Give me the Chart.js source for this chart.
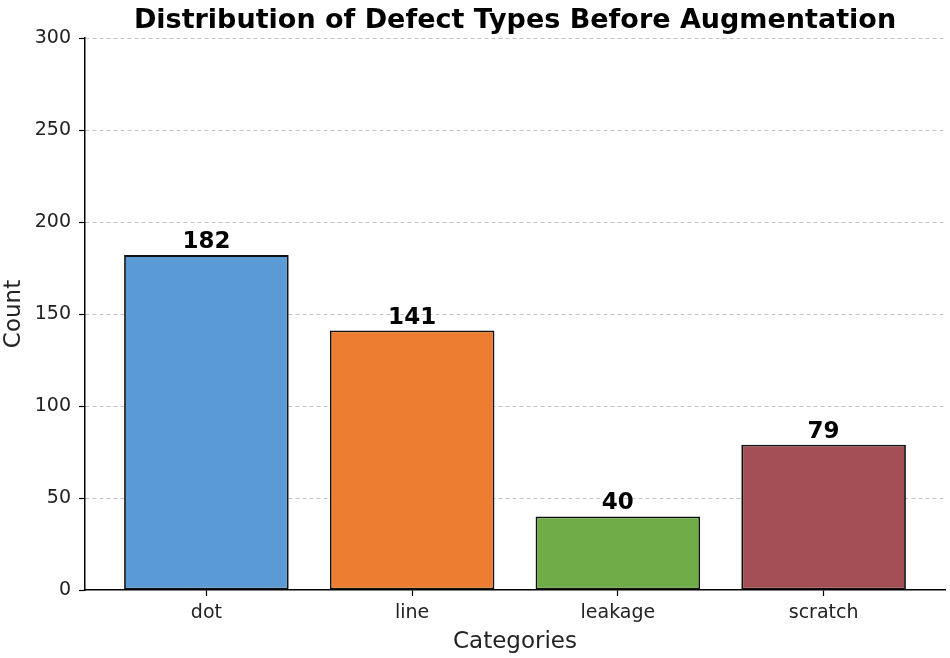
<!DOCTYPE html>
<html>
<head>
<meta charset="utf-8">
<script src="https://cdn.jsdelivr.net/npm/chart.js@4/dist/chart.umd.min.js"></script>
<style>
  html, body { margin: 0; padding: 0; background: #fff; }
  #wrap { width: 950px; height: 658px; }
</style>
</head>
<body>
<div id="wrap"><canvas id="defectChart"></canvas></div>
<script>
const categories = ['dot', 'line', 'leakage', 'scratch'];
const counts = [182, 141, 40, 79];
const barColors = ['#5b9bd5', '#ed7d31', '#70ad47', '#a44f55'];
const yTicks = [0, 50, 100, 150, 200, 250, 300];
const chartTitle = 'Distribution of Defect Types Before Augmentation';

Chart.defaults.font.family = "'DejaVu Sans', sans-serif";
Chart.defaults.color = '#222';

// title centred over the plot area + value labels above each bar
const barLabels = {
  id: 'barLabels',
  afterDatasetsDraw(chart) {
    const ctx = chart.ctx;
    const area = chart.chartArea;
    ctx.save();
    ctx.fillStyle = '#000';
    ctx.textAlign = 'center';
    ctx.textBaseline = 'alphabetic';
    ctx.font = "bold 23px 'DejaVu Sans'";
    chart.getDatasetMeta(0).data.forEach((bar, i) => {
      ctx.fillText(counts[i], bar.x, bar.y - 7);
    });
    ctx.font = "bold 27px 'DejaVu Sans'";
    ctx.fillText(chartTitle, (area.left + area.right) / 2, 28);
    ctx.restore();
  }
};

const ctx = document.getElementById('defectChart');

new Chart(ctx, {
  type: 'bar',
  data: {
    datasets: [{
      data: counts.map((v, i) => ({ x: i, y: v })),
      backgroundColor: barColors,
      borderColor: '#111',
      borderWidth: 1.8,
      borderSkipped: false,
      categoryPercentage: 0.8,
      barPercentage: 1
    }]
  },
  options: {
    responsive: true,
    maintainAspectRatio: false,
    animation: false,
    layout: {
      padding: { top: 38, right: 5, left: 0, bottom: 0 }
    },
    plugins: {
      legend: { display: false },
      title: { display: false },
      tooltip: { enabled: false }
    },
    scales: {
      x: {
        type: 'linear',
        min: -0.59,
        max: 3.59,
        offset: false,
        afterBuildTicks: s => {
          s.ticks = categories.map((c, i) => ({ value: i }));
        },
        afterFit: s => { s.height = 68; },
        ticks: {
          font: { size: 19 },
          color: '#222',
          padding: 6,
          callback: v => categories[v]
        },
        grid: {
          offset: false,
          drawOnChartArea: false,
          drawTicks: true,
          tickLength: 6,
          tickColor: '#000',
          tickWidth: 1.2
        },
        border: { display: true, color: '#000', width: 1.5 },
        title: {
          display: true,
          text: 'Categories',
          font: { size: 23 },
          color: '#222',
          padding: { top: 0, bottom: 2 }
        }
      },
      y: {
        min: 0,
        max: 300,
        z: 1,
        afterBuildTicks: s => {
          s.ticks = yTicks.map(v => ({ value: v }));
        },
        afterFit: s => { s.width = 85; },
        ticks: {
          font: { size: 19 },
          color: '#222',
          padding: 8
        },
        grid: {
          color: c => c.tick && c.tick.value === 0 ? 'rgba(0,0,0,0)' : 'rgba(170,170,170,0.7)',
          lineWidth: 1,
          tickLength: 6,
          tickColor: '#000',
          tickWidth: 1.2
        },
        border: { display: true, color: '#000', width: 1.5, dash: [4, 3] },
        title: {
          display: true,
          text: 'Count',
          font: { size: 23 },
          color: '#222',
          padding: { top: 0, bottom: 4 }
        }
      }
    }
  },
  plugins: [barLabels]
});
</script>
</body>
</html>
